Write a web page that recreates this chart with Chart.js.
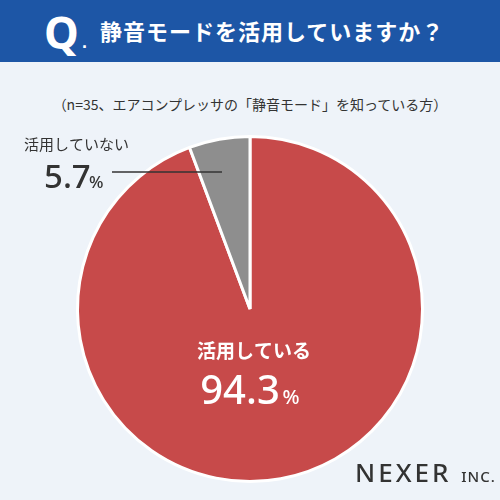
<!DOCTYPE html>
<html><head><meta charset="utf-8">
<script src="https://cdn.jsdelivr.net/npm/chart.js@4"></script>
<style>
body{margin:0;width:500px;height:500px;background:#eef3f9;font-family:"Noto Sans CJK JP",sans-serif;position:relative;overflow:hidden}
#hd{position:absolute;left:0;top:0;width:500px;height:62px;background:#1d56a6;color:#fff}
#q{position:absolute;left:44px;top:2px;font:bold 44px "Noto Sans",sans-serif}
#qd{position:absolute;left:82px;top:32px;font:bold 18px sans-serif}
#t{position:absolute;left:100px;top:14px;font-size:22px;font-weight:bold;letter-spacing:1px}
#sub{position:absolute;left:0;width:500px;top:94px;text-align:center;font-size:14px;color:#333}
#wrap{position:absolute;left:0;top:0;width:500px;height:500px}
#logo{position:absolute;left:355px;top:454px;font:500 26px "Noto Sans",sans-serif;color:#333;letter-spacing:3px}
#logo span{font-size:15px;letter-spacing:1px}
</style></head><body>
<div id="hd"><div id="q">Q</div><div id="qd">.</div><div id="t">静音モードを活用していますか？</div></div>
<div id="sub">（n=35、エアコンプレッサの「静音モード」を知っている方）</div>
<div id="wrap"><canvas id="c" width="500" height="500"></canvas></div>
<div id="logo">NEXER <span>INC.</span></div>
<script>
const categories=["活用している","活用していない"];
const values=[94.3,5.7];
const colors=["#c74a4a","#8e8e8e"];
const labelPlugin={id:"lbl",afterDatasetsDraw(ch){
 const x=ch.ctx;x.save();
 x.fillStyle="#fff";x.textAlign="center";x.textBaseline="alphabetic";
 x.font="bold 19px 'Noto Sans CJK JP'";x.fillText(categories[0],254,358);
 x.font="500 40px 'Noto Sans'";x.fillText(values[0].toFixed(1),240,404);
 x.font="500 20px 'Noto Sans'";x.fillText("%",291,404);
 x.fillStyle="#333";x.textAlign="left";
 x.font="15px 'Noto Sans CJK JP'";x.fillText(categories[1],24,150);
 x.font="500 33px 'Noto Sans'";x.fillText(values[1].toFixed(1),44,188);
 x.font="500 17px 'Noto Sans'";x.fillText("%",89,188);
 x.strokeStyle="#333";x.lineWidth=1.5;x.beginPath();x.moveTo(112,172);x.lineTo(222,172);x.stroke();
 x.restore();}};
new Chart(document.getElementById("c"),{type:"pie",
 data:{labels:categories,datasets:[{data:values,backgroundColor:colors,borderColor:"#fff",borderWidth:3}]},
 options:{responsive:false,animation:false,events:[],
  layout:{padding:{left:76,right:76,top:133,bottom:15}},
  plugins:{legend:{display:false},tooltip:{enabled:false}}},
 plugins:[labelPlugin]});
</script></body></html>
